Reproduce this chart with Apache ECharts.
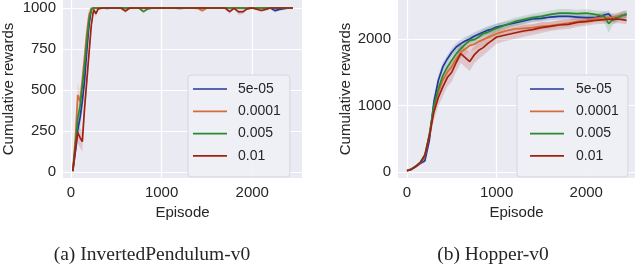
<!DOCTYPE html>
<html><head><meta charset="utf-8">
<script src="https://cdn.jsdelivr.net/npm/echarts@6/dist/echarts.min.js"></script>
<style>html,body{margin:0;padding:0;background:#fff}#c{width:640px;height:266px}</style>
</head><body><div id="c"></div>
<script>
var names = ['5e-05','0.0001','0.005','0.01'];
var colors = ['#20399a','#d66c3c','#2b8a30','#a3200f'];
var xTicks = [0,1000,2000];
var yTicksA = [0,250,500,750,1000];
var yTicksB = [0,1000,2000];

// InvertedPendulum-v0
var epsA = [20,50,75,100,125,150,175,200,225,250,275,300,350,400,450,500,550,600,650,700,750,800,850,900,950,1000,1100,1200,1300,1400,1450,1500,1600,1700,1750,1800,1850,1900,1950,2000,2100,2150,2200,2250,2300,2400,2450];
var blueA   = [5,130,260,330,430,560,740,900,995,1000, 1000,1000,1000,998,1000,1000,1000,1000,1000,1000, 1000,1000,1000,1000,1000,1000,1000,998,1000,1000, 1000,1000,1000,1000,1000,1000,1000,1000,1000,1000, 1000,1000,1000,984,992,1000,1000];
var orangeA = [5,220,470,430,560,700,850,960,995,1000, 1000,1000,1000,1000,1000,1000,1000,1000,1000,1000, 1000,1000,1000,1000,1000,1000,1000,1000,1000,998, 984,1000,1000,1000,1000,1000,1000,1000,1000,1000, 1000,1000,1000,1000,1000,1000,1000];
var greenA  = [5,170,330,400,520,650,800,930,990,1000, 1000,1000,1000,1000,1000,1000,1000,1000,1000,1000, 1000,978,995,1000,1000,1000,1000,1000,1000,1000, 1000,1000,1000,1000,1000,1000,1000,1000,995,1000, 1000,1000,1000,1000,1000,1000,1000];
var redA    = [5,150,240,210,185,390,560,730,900,990, 965,995,1000,1000,1000,1000,1000,982,1000,1000, 1000,1000,1000,1000,1000,1000,1000,1000,1000,1000, 1000,1000,1000,1000,978,998,976,978,998,1000, 985,992,1000,1000,1000,1000,1000];
var sprBlueA   = [3,40,60,60,70,80,80,50,10,5, 4,4,4,4,4,4,4,4,4,4, 4,4,4,4,4,4,4,4,4,4, 4,4,4,4,4,4,4,4,4,4, 4,4,4,12,8,4,4];
var sprOrangeA = [3,50,80,60,60,60,60,40,10,5, 4,4,4,4,4,4,4,4,4,4, 4,4,4,4,4,4,4,4,4,6, 12,4,4,4,4,4,4,4,4,4, 4,4,4,4,4,4,4];
var sprGreenA  = [3,40,50,50,60,60,60,40,10,5, 4,4,4,4,4,4,4,4,4,4, 4,12,6,4,4,4,4,4,4,4, 4,4,4,4,4,4,4,4,4,4, 4,4,4,4,4,4,4];
var sprRedA    = [3,40,70,60,60,60,60,50,30,10, 20,8,4,4,4,4,4,12,4,4, 4,4,4,4,4,4,4,4,4,4, 4,4,4,4,15,6,18,15,6,4, 10,6,4,4,4,4,4];

// Hopper-v0
var epsB = [0,50,100,150,200,250,300,350,400,450,500,550,600,650,700,750,800,850,900,950,1000,1100,1200,1300,1400,1500,1600,1700,1800,1900,2000,2100,2200,2250,2300,2350,2400,2450];
var blueB   = [20,40,80,130,170,480,1050,1380,1580,1700, 1800,1880,1930,1970,2000,2040,2070,2100,2130,2150, 2180,2210,2240,2270,2300,2310,2330,2340,2340,2330, 2320,2320,2360,2380,2300,2330,2360,2370];
var orangeB = [20,45,90,140,240,560,960,1200,1380,1500, 1580,1700,1800,1850,1900,1920,1960,1990,2020,2050, 2080,2120,2150,2160,2170,2190,2200,2220,2240,2260, 2280,2310,2320,2320,2330,2340,2360,2370];
var greenB  = [20,45,90,150,260,560,1000,1250,1450,1580, 1680,1780,1850,1920,1980,1990,2030,2080,2100,2130, 2160,2210,2260,2290,2320,2340,2370,2390,2390,2380, 2390,2370,2340,2230,2300,2320,2350,2370];
var redB    = [20,40,85,140,250,540,900,1120,1280,1420, 1500,1650,1780,1720,1660,1760,1830,1870,1930,1980, 2030,2060,2090,2120,2140,2170,2190,2210,2220,2250, 2260,2280,2290,2300,2290,2300,2290,2280];
var sprBlueB   = [5,10,15,20,30,60,80,80,70,60, 60,60,60,60,60,60,60,60,60,60, 55,50,50,50,50,50,50,50,50,50, 50,50,50,50,50,50,50,50];
var sprOrangeB = [5,10,15,20,30,60,90,90,90,90, 90,90,90,90,90,90,90,90,80,80, 80,70,70,70,60,60,60,60,60,60, 60,60,60,60,60,60,60,60];
var sprGreenB  = [5,10,15,20,30,60,80,80,70,70, 70,70,70,70,70,70,70,70,70,70, 60,60,60,60,60,60,60,60,60,60, 60,60,80,140,80,60,60,60];
var sprRedB    = [5,10,15,20,40,80,120,130,140,140, 140,140,140,140,140,130,130,120,120,110, 100,90,90,90,80,80,70,70,70,70, 60,60,60,60,60,60,60,60];

var txt = '#262626';
var font = 'Liberation Sans';

function pairs(xs, ys) { return xs.map(function (x, i) { return [x, ys[i]]; }); }

function bandRender(color) {
  return function (params, api) {
    if (params.dataIndexInside !== 0) return null;
    var n = params.dataInsideLength, top = [], bot = [];
    for (var i = 0; i < n; i++) {
      var x = api.value(0, i);
      top.push(api.coord([x, api.value(2, i)]));
      bot.push(api.coord([x, api.value(1, i)]));
    }
    return { type: 'polygon', shape: { points: top.concat(bot.reverse()) },
      style: { fill: color, opacity: 0.17 } };
  };
}

function makeSeries(idx, xs, vals, sprs) {
  var out = [];
  vals.forEach(function (v, k) {
    var band = xs.map(function (x, i) { return [x, v[i] - sprs[k][i], v[i] + sprs[k][i]]; });
    out.push({ type: 'custom', xAxisIndex: idx, yAxisIndex: idx, data: band, silent: true, z: 1,
      encode: { x: 0, y: [1, 2] }, renderItem: bandRender(colors[k]) });
  });
  vals.forEach(function (v, k) {
    out.push({ type: 'line', name: names[k], xAxisIndex: idx, yAxisIndex: idx, data: pairs(xs, v),
      symbol: 'none', color: colors[k], itemStyle: { color: colors[k] },
      lineStyle: { color: colors[k], width: 1.7 }, z: 3 });
  });
  return out;
}

function plain(v) { return String(v); }

function xAx(idx, min, max) {
  return { type: 'value', gridIndex: idx, min: min, max: max,
    name: 'Episode', nameLocation: 'middle', nameGap: 23,
    nameTextStyle: { color: txt, fontSize: 15, fontFamily: font },
    axisLine: { show: false },
    axisTick: { show: false, customValues: xTicks },
    axisLabel: { customValues: xTicks, formatter: plain, color: txt, fontSize: 15, fontFamily: font, margin: 7 },
    splitLine: { show: true, lineStyle: { color: '#ffffff', width: 1.2 } } };
}
function yAx(idx, min, max, ticks, gap) {
  return { type: 'value', gridIndex: idx, min: min, max: max,
    name: 'Cumulative rewards', nameLocation: 'middle', nameGap: gap,
    nameTextStyle: { color: txt, fontSize: 15, fontFamily: font },
    axisLine: { show: false },
    axisTick: { show: false, customValues: ticks },
    axisLabel: { customValues: ticks, formatter: plain, color: txt, fontSize: 15, fontFamily: font, margin: 7 },
    splitLine: { show: true, lineStyle: { color: '#ffffff', width: 1.2 } } };
}
function legend(left, padL, gapTxt) {
  return { orient: 'vertical', left: left, top: 75, data: names,
    icon: 'rect', itemWidth: 34, itemHeight: 1.7, itemGap: 8.3,
    padding: [7, 9, 14, padL],
    backgroundColor: 'rgba(240,240,246,0.9)', borderColor: '#d6d6de', borderWidth: 1, borderRadius: 3,
    textStyle: { color: txt, fontSize: 14, lineHeight: 14, fontFamily: font, padding: [0, 0, 0, gapTxt] } };
}

var chart = echarts.init(document.getElementById('c'), null, { renderer: 'canvas' });
chart.setOption({
  animation: false,
  backgroundColor: '#ffffff',
  grid: [
    { left: 62, top: 0, width: 240, height: 178, show: true, backgroundColor: '#eaeaf2', borderWidth: 0 },
    { left: 398, top: 0, width: 237, height: 178, show: true, backgroundColor: '#eaeaf2', borderWidth: 0 }
  ],
  xAxis: [ xAx(0, -88, 2549), xAx(1, -100, 2544) ],
  yAxis: [ yAx(0, -36.6, 1048.8, yTicksA, 47), yAx(1, -90, 2586, yTicksB, 45) ],
  legend: [ legend(188, 5, 6), legend(517, 13, 7) ],
  series: makeSeries(0, epsA, [blueA, orangeA, greenA, redA], [sprBlueA, sprOrangeA, sprGreenA, sprRedA])
    .concat(makeSeries(1, epsB, [blueB, orangeB, greenB, redB], [sprBlueB, sprOrangeB, sprGreenB, sprRedB])),
  graphic: [
    { type: 'text', x: 152, y: 255, style: { text: '(a) InvertedPendulum-v0', fill: txt,
      font: '19.5px "Liberation Serif"', textAlign: 'center', textVerticalAlign: 'middle' } },
    { type: 'text', x: 493, y: 255, style: { text: '(b) Hopper-v0', fill: txt,
      font: '19.5px "Liberation Serif"', textAlign: 'center', textVerticalAlign: 'middle' } }
  ]
});
</script></body></html>
